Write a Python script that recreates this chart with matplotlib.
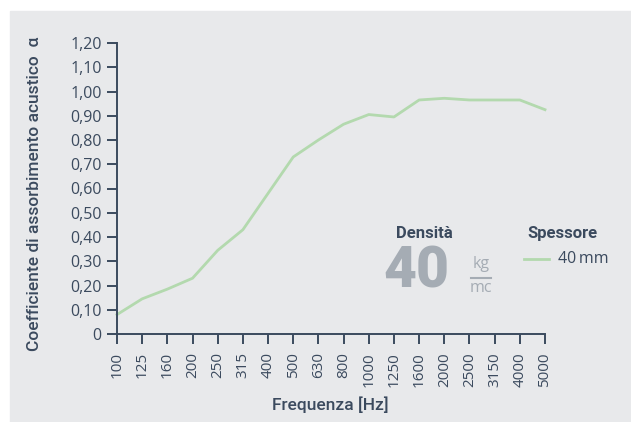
from matplotlib import pyplot as plt
from matplotlib.patches import Rectangle
from matplotlib.lines import Line2D

# dati
frequenze = ["100", "125", "160", "200", "250", "315", "400", "500", "630",
             "800", "1000", "1250", "1600", "2000", "2500", "3150", "4000", "5000"]
alfa_40mm = [0.08, 0.145, 0.185, 0.23, 0.345, 0.43, 0.58, 0.73, 0.80,
             0.865, 0.905, 0.895, 0.965, 0.972, 0.965, 0.965, 0.965, 0.925]
y_ticks = [0, 0.1, 0.2, 0.3, 0.4, 0.5, 0.6, 0.7, 0.8, 0.9, 1.0, 1.1, 1.2]
y_tick_labels = ["0" if v == 0 else f"{v:.2f}".replace(".", ",") for v in y_ticks]

testo = "#3b4a5e"
grigio = "#a5acb4"
verde = "#b3d9ae"
sfondo = "#e8e9eb"

plt.rcParams["font.family"] = ["Open Sans", "DejaVu Sans"]
titoli = ["Roboto", "DejaVu Sans"]

W, H = 631, 422
fig = plt.figure(figsize=(W / 100, H / 100), dpi=100, facecolor="white")
fig.patches.append(Rectangle((10 / W, 0), 1 - 10 / W, 1 - 11 / H,
                             transform=fig.transFigure, color=sfondo, zorder=-10))

ax = fig.add_axes([117 / W, 1 - 334 / H, 428 / W, 291 / H])
ax.set_facecolor("none")
x = list(range(len(frequenze)))
ax.plot(x, alfa_40mm, color=verde, lw=2, clip_on=False)

ax.set_xlim(0, len(frequenze) - 1)
ax.set_ylim(0, 1.2)
ax.set_xticks(x)
ax.set_xticklabels(frequenze, rotation=90, fontsize=11, color=testo)
ax.set_yticks(y_ticks)
ax.set_yticklabels(y_tick_labels, fontsize=11.5, color=testo)
for s in ["top", "right"]:
    ax.spines[s].set_visible(False)
for s in ["left", "bottom"]:
    ax.spines[s].set_color(testo)
    ax.spines[s].set_linewidth(1.4)
ax.tick_params(axis="both", colors=testo, width=1.4, length=7, pad=4)
ax.tick_params(axis="x", pad=6)

fig.text(35 / W, 1 - 194 / H, "Coefficiente di assorbimento acustico  α",
         rotation=90, ha="center", va="center", fontsize=12.5,
         color=testo, family=titoli, fontweight="medium")
fig.text(330 / W, 1 - 405 / H, "Frequenza [Hz]", ha="center", va="center",
         fontsize=12.5, color=testo, family=titoli, fontweight="medium")

# densita
fig.text(424 / W, 1 - 234 / H, "Densità", ha="center", va="center",
         fontsize=12, color=testo, family=titoli, fontweight="bold")
fig.text(416 / W, 1 - 272 / H, "40", ha="center", va="center",
         fontsize=41, color=grigio, family=titoli, fontweight="heavy")
fig.text(481 / W, 1 - 264 / H, "kg", ha="center", va="center",
         fontsize=11.5, color=grigio)
fig.text(481 / W, 1 - 288 / H, "mc", ha="center", va="center",
         fontsize=11.5, color=grigio)
fig.lines.append(Line2D([471 / W, 491 / W], [1 - 278 / H, 1 - 278 / H],
                        transform=fig.transFigure, color=grigio, lw=1.5))

# legenda spessore
fig.text(562 / W, 1 - 234 / H, "Spessore", ha="center", va="center",
         fontsize=12, color=testo, family=titoli, fontweight="bold")
fig.lines.append(Line2D([524 / W, 549 / W], [1 - 259 / H, 1 - 259 / H],
                        transform=fig.transFigure, color=verde, lw=2))
fig.text(558 / W, 1 - 259 / H, "40\u2009mm", ha="left", va="center",
         fontsize=11.5, color=testo)

fig.savefig("out.png", dpi=100, facecolor="white")
